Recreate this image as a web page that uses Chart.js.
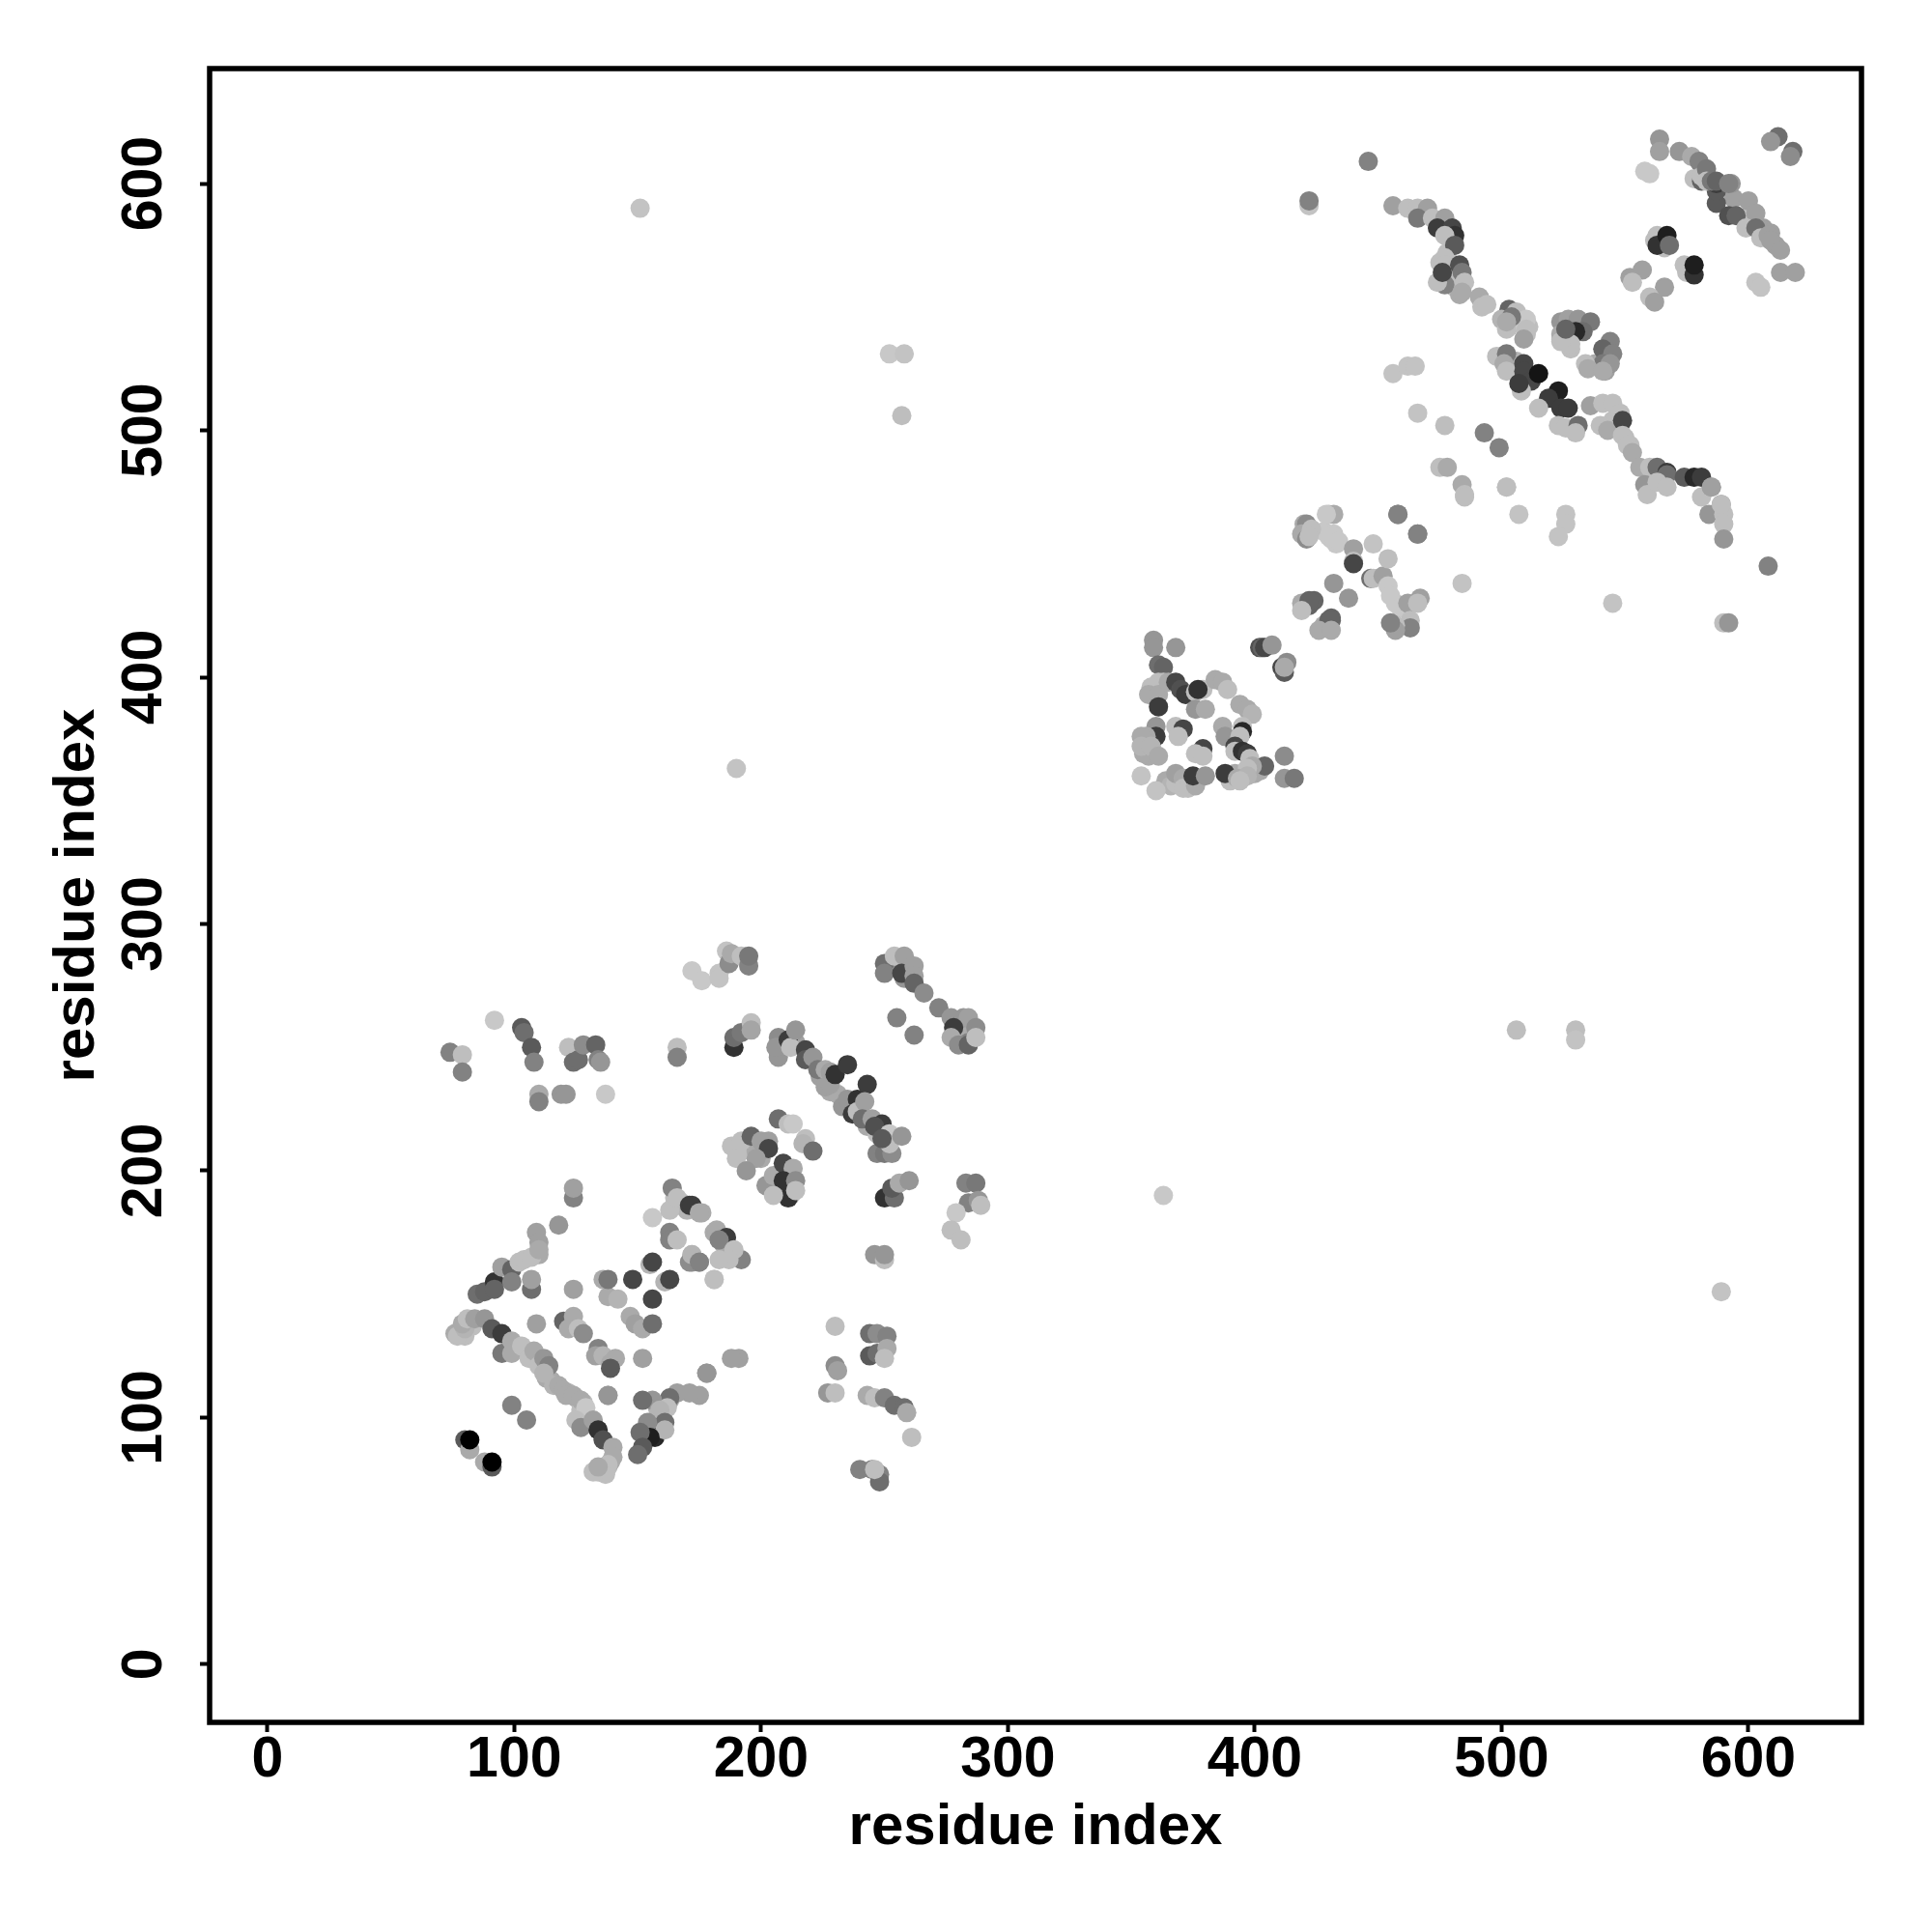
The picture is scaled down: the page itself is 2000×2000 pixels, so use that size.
<!DOCTYPE html>
<html>
<head>
<meta charset="utf-8">
<title>residue contacts</title>
<script src="https://cdn.jsdelivr.net/npm/chart.js@4"></script>
<style>
    html, body { margin: 0; padding: 0; background: #fff; }
    canvas { display: block; }
</style>
</head>
<body>
<canvas id="contactChart" width="2000" height="2000"></canvas>
<script>
const tickValues = [0, 100, 200, 300, 400, 500, 600];
const axisLabel = 'residue index';

// points mostly hidden under the others in the dense clusters, drawn first
const denseX = [
    83, 78, 80, 76, 113, 115, 116, 122, 125, 128, 127, 134, 136, 138, 139, 137,
    160, 157, 158, 163, 153, 157, 186, 188, 185, 165, 168, 170,
    192, 195, 198, 200, 203, 206, 208, 212, 210,
    207, 209, 214, 224, 228, 231, 243, 247, 279, 282, 285, 281, 284, 252, 256, 259, 258,
    357, 355, 358, 364, 366, 368, 372, 392, 395, 390, 400, 402,
    430, 431, 433, 428, 432, 422, 424, 430, 431, 428,
    503, 505, 508, 511, 510, 506, 504, 507, 511,
    524, 526, 528, 538, 542, 545, 548, 550, 552,
    478, 475, 479, 481, 483, 590, 594, 599, 601, 606, 609, 611, 565, 566, 562
];
const denseY = [
    137, 134, 133, 134, 116, 115, 113, 110, 108, 106, 103, 78, 79, 80, 82, 77,
    100, 99, 104, 107, 93, 92, 168, 165, 170, 189, 187, 184,
    208, 210, 208, 205, 212, 193, 191, 190, 192,
    248, 252, 252, 238, 232, 231, 218, 215, 256, 259, 256, 254, 252, 283, 284, 281, 278,
    368, 369, 372, 358, 356, 357, 358, 361, 359, 358, 361, 362,
    457, 456, 454, 459, 458, 429, 431, 423, 424, 421,
    542, 545, 544, 542, 539, 528, 525, 522, 520,
    537, 538, 533, 527, 524, 504, 500, 497, 494,
    572, 568, 562, 558, 555, 599, 594, 586, 585, 582, 580, 575, 576, 574, 577
];
const denseGray = [
    190, 190, 190, 170, 170, 170, 180, 180, 170, 190, 190, 190, 190, 190, 170, 190,
    180, 180, 180, 170, 100, 40, 190, 190, 170, 190, 190, 180,
    190, 190, 170, 170, 160, 190, 190, 190, 180,
    150, 190, 160, 160, 170, 170, 170, 190, 150, 150, 170, 170, 130, 130, 150, 190, 150,
    170, 170, 170, 170, 180, 190, 180, 170, 190, 190, 170, 170,
    200, 200, 200, 200, 200, 100, 100, 100, 100, 170,
    190, 190, 200, 190, 190, 180, 180, 190, 180,
    190, 170, 190, 170, 160, 190, 190, 190, 190,
    190, 190, 190, 190, 170, 170, 160, 190, 190, 160, 160, 160, 190, 190, 190
];

// lower left domain, left half
const lowerLeftX = [
    124, 124, 118, 109, 110, 110, 85, 88, 92, 92, 95, 99, 99, 102, 107, 107, 104, 107, 110,
    77, 80, 79, 81, 84, 88, 91, 95, 95, 99, 99, 103, 106, 108, 110, 112, 114, 112,
    118, 120, 121, 124, 127, 129, 125, 127, 132, 134, 136, 140, 140, 138, 135, 132, 134,
    109, 124, 120, 124, 122, 126, 128, 134, 133, 136, 139, 141, 139, 152, 138,
    136, 138, 142, 138, 148, 155, 156, 156, 161, 163, 147, 149, 152, 156,
    156, 163, 164, 166, 163, 163, 166, 171, 176, 172, 172, 171, 175, 181, 181,
    178, 175, 171, 166, 163, 156, 152, 162, 159, 161, 161, 154, 155, 151, 152, 150,
    80, 82, 82, 88, 91, 91, 99, 105,
    74, 79, 79, 92, 103, 104, 107, 108, 110, 110,
    119, 121, 122, 124, 126, 128, 133, 134, 135, 137, 166, 166
];
const lowerLeftY = [
    189, 193, 178, 175, 171, 166, 150, 151, 155, 152, 161, 160, 155, 163, 152, 156, 164, 165, 168,
    133, 136, 138, 140, 140, 140, 136, 134, 126, 131, 126, 129, 124, 127, 121, 124, 121, 118,
    113, 111, 109, 109, 107, 104, 99, 96, 99, 95, 91, 88, 84, 81, 79, 78, 80,
    138, 152, 139, 141, 136, 136, 134, 128, 125, 125, 122, 124, 120, 124, 109,
    156, 149, 148, 156, 156, 162, 163, 148, 155, 156, 141, 138, 136, 138,
    181, 184, 193, 189, 175, 172, 172, 186, 183, 166, 163, 163, 163, 156, 175,
    118, 109, 110, 110, 108, 107, 107, 104, 103, 98, 95, 98, 92, 94, 88, 85,
    91, 87, 91, 82, 80, 82, 105, 99,
    248, 247, 240, 261, 258, 256, 250, 244, 231, 228,
    231, 231, 250, 244, 245, 251, 251, 245, 244, 231, 250, 246
];
const lowerLeftGray = [
    130, 160, 150, 160, 160, 170, 110, 100, 50, 100, 160, 100, 130, 190, 110, 160, 190, 190, 170,
    190, 180, 170, 190, 160, 150, 90, 60, 120, 170, 170, 190, 190, 170, 190, 150, 130, 180,
    170, 170, 170, 170, 170, 200, 190, 140, 160, 50, 80, 170, 170, 190, 190, 190, 170,
    160, 160, 100, 170, 170, 190, 140, 130, 160, 180, 170, 170, 90, 160, 170,
    170, 170, 180, 120, 70, 180, 70, 70, 180, 70, 170, 160, 170, 110,
    200, 190, 130, 190, 130, 130, 190, 60, 170, 190, 140, 140, 150, 200, 170,
    150, 160, 160, 160, 110, 150, 110, 190, 180, 110, 180, 140, 30, 110, 90, 110,
    90, 170, 0, 170, 90, 0, 130, 130,
    130, 190, 130, 200, 90, 110, 90, 130, 170, 130,
    150, 150, 190, 110, 110, 140, 100, 130, 150, 200, 190, 130
];

// lower left domain, right half
const lowerMidX = [
    172, 176, 183, 183, 186, 187, 188, 192, 195, 195,
    189, 189, 192, 196, 196,
    207, 207, 206, 211, 212, 214, 218, 218, 221, 223, 226, 228, 226, 228, 230, 235,
    233, 235, 239, 243, 237, 239, 242, 241, 245, 249, 246, 247, 250, 253, 252, 252, 249, 257,
    190, 188, 190, 192, 196, 200, 203, 198, 194, 202, 205, 209, 213, 209, 214, 211, 205, 214,
    207, 211, 213, 218, 217, 221,
    250, 250, 254, 258, 257, 262, 262, 262, 266, 272, 255, 262,
    277, 282, 284, 278, 277, 280, 284, 287, 287,
    250, 254, 253, 256, 260, 283, 287, 284, 288, 289, 279, 277, 281,
    246, 250, 250, 172, 175, 182, 186, 183, 192, 189, 187, 183, 172, 175, 181,
    230, 230, 231, 227, 230,
    244, 247, 251, 244, 247, 251, 250, 243, 246, 250, 254, 258, 259, 261,
    240, 245, 248, 248, 246, 191, 188, 178, 138
];
const lowerMidY = [
    281, 277, 280, 278, 289, 284, 288, 287, 283, 287,
    250, 254, 256, 260, 257,
    246, 254, 250, 253, 250, 257, 249, 245, 246, 241, 241, 240, 234, 235, 239, 243,
    226, 229, 229, 235, 223, 224, 228, 221, 221, 219, 218, 207, 207, 207, 215, 211, 213, 214,
    208, 210, 205, 212, 214, 212, 209, 205, 200, 194, 198, 203, 201, 196, 196, 189, 190, 192,
    221, 219, 219, 213, 211, 208,
    284, 280, 287, 287, 280, 283, 279, 276, 272, 266, 262, 255,
    262, 262, 262, 258, 254, 251, 251, 258, 254,
    189, 189, 193, 195, 196, 195, 195, 187, 188, 186, 183, 176, 172,
    166, 164, 166, 186, 183, 176, 173, 172, 164, 168, 164, 164, 166, 163, 156,
    137, 121, 119, 110, 110,
    134, 134, 133, 125, 126, 128, 124, 109, 108, 108, 105, 104, 102, 92,
    79, 79, 77, 74, 79, 124, 124, 118, 109
];
const lowerMidGray = [
    200, 200, 195, 195, 195, 140, 170, 190, 130, 120,
    50, 110, 120, 190, 165,
    150, 140, 150, 60, 190, 150, 70, 90, 150, 120, 170, 160, 160, 160, 50, 60,
    150, 150, 50, 60, 60, 190, 160, 110, 160, 60, 80, 130, 120, 140, 200, 190, 90, 150,
    190, 190, 190, 190, 100, 160, 70, 160, 150, 150, 170, 70, 170, 50, 140, 50, 190, 190,
    110, 190, 200, 190, 180, 110,
    110, 130, 190, 160, 70, 160, 160, 100, 140, 130, 130, 130,
    150, 150, 160, 60, 170, 140, 100, 140, 190,
    50, 110, 90, 170, 150, 130, 120, 130, 150, 190, 200, 190, 190,
    150, 190, 150, 60, 170, 170, 60, 130, 130, 190, 190, 190, 180, 130, 190,
    190, 140, 160, 150, 190,
    110, 140, 130, 90, 110, 170, 190, 170, 190, 130, 110, 110, 170, 190,
    130, 130, 130, 110, 190, 160, 160, 150, 150
];

// stray points far from the diagonal
const strayX = [151, 190, 252, 258, 257, 363, 506, 530, 530, 589, 422, 422, 446];
const strayY = [590, 363, 531, 531, 506, 190, 257, 257, 253, 151, 591, 593, 609];
const strayGray = [195, 195, 200, 195, 190, 200, 190, 190, 195, 195, 195, 130, 130];

// upper right domain, lower half
const upperMidX = [
    359, 359, 368, 361, 363, 363, 361, 358, 357, 361, 365, 368, 370, 372, 376, 379, 377,
    384, 387, 389, 361, 376, 380, 394, 397, 399, 387, 388, 395, 395, 394,
    360, 360, 356, 354, 354, 358, 361, 368, 371, 369, 379, 376, 379,
    392, 392, 395, 397, 398, 412, 412, 416, 404, 399, 397, 388, 393, 397, 394,
    354, 360, 368, 371, 371, 373, 376, 375, 380,
    402, 403, 404, 407, 411, 412, 413, 412,
    419, 422, 419, 430, 431, 426, 431, 432, 438, 447, 448, 452,
    454, 455, 457, 459, 467, 462, 466, 463, 463, 457, 457, 455,
    420, 421, 419, 421, 423, 422, 430, 432, 429, 432, 434, 440, 440, 440,
    448, 454, 458, 466, 484
];
const upperMidY = [
    415, 412, 412, 405, 404, 398, 398, 396, 393, 393, 398, 398, 395, 393, 394, 395, 395,
    399, 398, 395, 388, 387, 387, 389, 387, 385, 380, 376, 380, 378, 376,
    380, 376, 376, 376, 372, 372, 368, 380, 379, 376, 371, 369, 368,
    372, 370, 370, 369, 367, 368, 359, 359, 364, 364, 363, 361, 359, 360, 358,
    360, 354, 361, 359, 355, 355, 356, 360, 360,
    412, 412, 412, 413, 404, 402, 406, 404,
    430, 431, 427, 423, 423, 419, 419, 438, 432, 440, 440, 441,
    437, 433, 430, 428, 432, 430, 430, 423, 420, 421, 419, 422,
    462, 462, 458, 456, 460, 457, 466, 466, 466, 457, 455, 452, 447, 446,
    454, 448, 466, 458, 438
];
const upperMidGray = [
    150, 150, 150, 110, 100, 190, 190, 190, 170, 170, 170, 70, 80, 60, 190, 190, 50,
    170, 170, 190, 60, 150, 170, 170, 170, 180, 170, 150, 190, 40, 190,
    150, 60, 170, 170, 180, 180, 170, 190, 70, 190, 70, 190, 190,
    70, 190, 50, 60, 190, 140, 150, 120, 100, 170, 190, 60, 170, 180, 190,
    195, 195, 160, 170, 190, 190, 170, 60, 150,
    80, 100, 70, 150, 70, 90, 140, 170,
    170, 100, 190, 100, 100, 170, 170, 150, 150, 110, 190, 160,
    200, 200, 200, 200, 160, 160, 190, 190, 130, 190, 160, 130,
    170, 140, 170, 140, 190, 190, 190, 170, 200, 200, 200, 160, 190, 70,
    195, 190, 130, 130, 195
];

// upper right domain, the two long strands and the top corner
const upperRightX = [
    456, 462, 466, 470, 466, 472, 477, 474, 480, 481, 477, 481,
    477, 477, 483, 484, 477, 474, 485, 484, 476,
    491, 492, 494, 503, 500, 502, 506, 510, 510, 509, 504, 502,
    524, 527, 531, 536, 533, 530, 524, 528, 524, 526,
    544, 541, 545, 541, 544, 534, 535, 541,
    498, 502, 501, 502, 509, 509, 512, 515, 508, 507,
    523, 519, 515, 524, 527, 523, 526, 531, 530,
    536, 541, 545, 548, 540, 543, 549, 549, 551, 553,
    556, 560, 563, 567, 567, 558, 559, 563, 567, 574, 578, 581, 581, 585,
    589, 584, 590, 590, 590, 589, 585, 590, 592,
    456, 462, 465, 466, 477, 475, 478, 484, 485, 502, 507, 493, 499, 458, 466,
    526, 526, 523, 545, 485, 502, 608
];
const upperRightY = [
    591, 590, 590, 590, 586, 586, 586, 582, 582, 579, 579, 575,
    570, 567, 567, 564, 559, 560, 560, 556, 564,
    554, 550, 551, 549, 545, 541, 548, 545, 541, 537, 546, 544,
    544, 545, 545, 544, 540, 540, 539, 535, 536, 541,
    536, 533, 531, 527, 527, 527, 525, 524,
    530, 531, 527, 524, 527, 524, 520, 523, 516, 519,
    516, 513, 509, 509, 509, 502, 501, 502, 499,
    510, 511, 511, 507, 502, 500, 504, 498, 494, 491,
    485, 485, 485, 483, 482, 478, 474, 479, 477, 481, 481, 481, 473, 477,
    470, 466, 466, 462, 456, 470, 477, 422, 422,
    523, 526, 526, 507, 502, 485, 485, 478, 474, 477, 466, 499, 493, 466, 458,
    466, 462, 457, 430, 473, 477, 445
];
const upperRightGray = [
    160, 190, 190, 160, 120, 190, 160, 60, 70, 50, 190, 90,
    190, 190, 80, 120, 130, 190, 190, 170, 70,
    170, 190, 190, 100, 180, 190, 190, 200, 190, 160, 120, 170,
    150, 160, 150, 120, 110, 40, 170, 190, 190, 100,
    130, 100, 130, 120, 150, 190, 170, 170,
    190, 120, 170, 190, 70, 70, 70, 20, 190, 60,
    30, 60, 190, 60, 60, 190, 190, 110, 190,
    160, 190, 190, 190, 190, 170, 70, 190, 190, 170,
    170, 190, 110, 60, 110, 150, 190, 190, 190, 90, 40, 60, 190, 160,
    150, 150, 190, 190, 150, 190, 160, 190, 150,
    195, 195, 195, 195, 190, 190, 170, 170, 190, 195, 195, 130, 130, 130, 130,
    195, 195, 195, 195, 190, 190, 130
];

const topCornerX = [
    587, 587, 592, 595, 600, 603, 599, 603, 605, 608, 609, 613, 613, 619, 603, 605,
    578, 581, 587, 593, 563, 563, 567, 568, 574, 575, 578, 578,
    552, 557, 553, 566, 560, 562,
    564, 564, 572, 558, 560, 612, 609, 618, 617,
    577, 580, 581, 583, 583, 585, 587, 592
];
const topCornerY = [
    592, 597, 587, 587, 593, 588, 582, 582, 578, 579, 577, 573, 564, 564, 560, 558,
    602, 601, 600, 600, 579, 575, 579, 575, 567, 564, 563, 567,
    562, 565, 560, 558, 554, 552,
    618, 613, 613, 605, 604, 619, 617, 613, 611,
    611, 609, 603, 606, 601, 601, 601, 600
];
const topCornerGray = [
    90, 90, 80, 100, 160, 160, 190, 110, 190, 160, 160, 160, 160, 160, 195, 195,
    190, 100, 60, 150, 190, 50, 30, 110, 190, 190, 50, 30,
    160, 160, 190, 160, 190, 160,
    150, 160, 150, 200, 200, 110, 150, 110, 140,
    170, 130, 190, 120, 190, 120, 100, 130
];

const xValues = [...denseX, ...lowerLeftX, ...lowerMidX, ...strayX, ...upperMidX, ...upperRightX, ...topCornerX];
const yValues = [...denseY, ...lowerLeftY, ...lowerMidY, ...strayY, ...upperMidY, ...upperRightY, ...topCornerY];
const grayValues = [...denseGray, ...lowerLeftGray, ...lowerMidGray, ...strayGray, ...upperMidGray, ...upperRightGray, ...topCornerGray];

const tickFont = { family: '"Liberation Sans"', size: 59, weight: 'bold' };
const titleFont = { family: '"Liberation Sans"', size: 60, weight: 'bold' };

// the R plot has a closed box around the panel
const plotBox = {
    id: 'plotBox',
    afterDatasetsDraw(chart) {
        const { ctx, chartArea } = chart;
        ctx.save();
        ctx.strokeStyle = '#000';
        ctx.lineWidth = 5.5;
        ctx.strokeRect(chartArea.left, chartArea.top, chartArea.right - chartArea.left, chartArea.bottom - chartArea.top);
        ctx.restore();
    }
};

function axisOptions(extra) {
    return Object.assign({
        type: 'linear',
        afterBuildTicks(scale) {
            scale.ticks = tickValues.map(value => ({ value }));
        },
        border: { display: false },
        grid: { drawOnChartArea: false, drawTicks: true, tickLength: 10, tickWidth: 4, tickColor: '#000' }
    }, extra);
}

const ctx = document.getElementById('contactChart').getContext('2d');
new Chart(ctx, {
    type: 'scatter',
    data: {
        datasets: [{
            data: xValues.map((x, i) => ({ x, y: yValues[i] })),
            backgroundColor: grayValues.map(g => `rgb(${g}, ${g}, ${g})`),
            borderWidth: 0,
            pointRadius: 10,
            clip: false
        }]
    },
    options: {
        responsive: false,
        animation: false,
        layout: { padding: { left: 0, top: 71, right: 73, bottom: 0 } },
        plugins: { legend: { display: false }, tooltip: { enabled: false } },
        scales: {
            x: axisOptions({
                min: -23.4,
                max: 645.8,
                afterFit(scale) { scale.height = 217; },
                ticks: { color: '#000', font: tickFont, padding: -6, maxRotation: 0, minRotation: 0 },
                title: { display: true, text: axisLabel, color: '#000', font: titleFont, padding: { top: 0, bottom: 72 } }
            }),
            y: axisOptions({
                min: -23.5,
                max: 646.6,
                afterFit(scale) { scale.width = 217; },
                ticks: { color: '#000', font: tickFont, padding: 7, minRotation: 90, maxRotation: 90, crossAlign: 'center' },
                title: { display: true, text: axisLabel, color: '#000', font: titleFont, padding: { top: 44, bottom: 0 } }
            })
        }
    },
    plugins: [plotBox]
});
</script>
</body>
</html>
